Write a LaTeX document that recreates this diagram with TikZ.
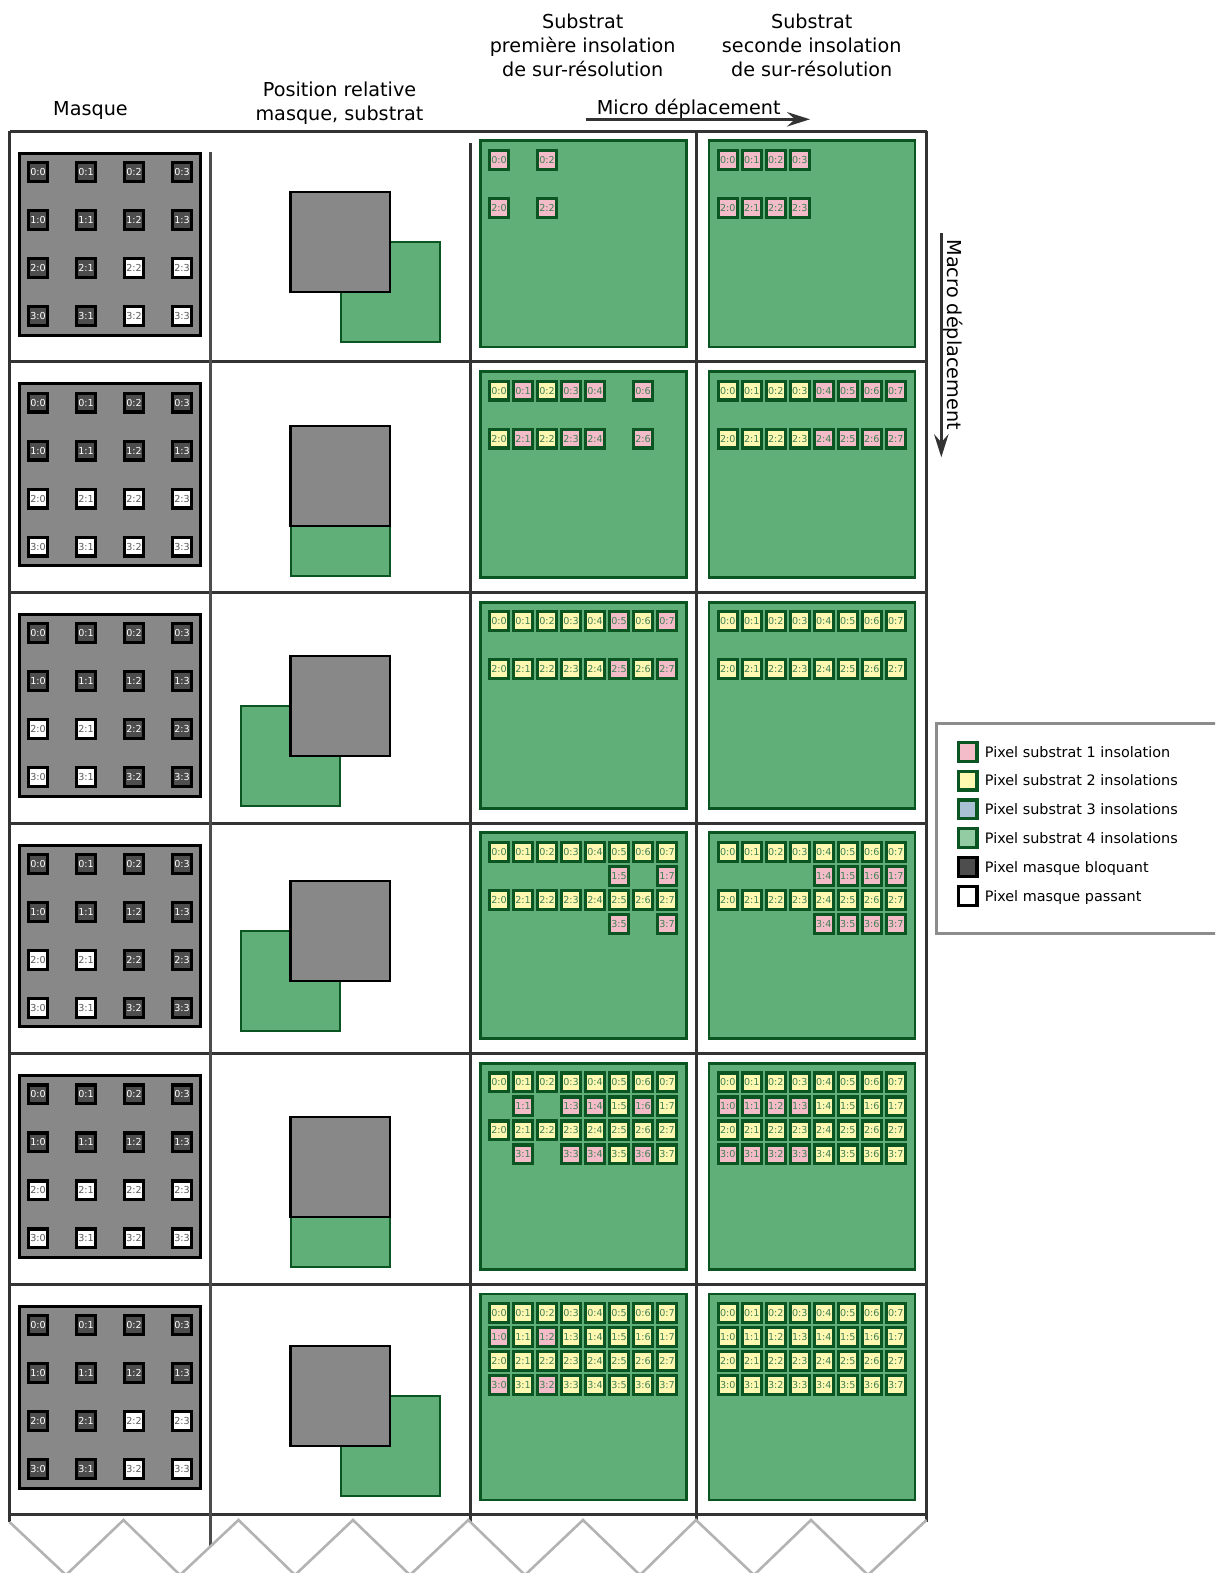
\documentclass[tikz,border=0pt]{standalone}
\usepackage{fontspec}
\setmainfont{DejaVu Sans}
\usetikzlibrary{arrows.meta}
\definecolor{gridc}{HTML}{333333}
\definecolor{gridb}{HTML}{4D4D4D}
\definecolor{zigc}{HTML}{B3B3B3}
\definecolor{legc}{HTML}{8C8C8C}
\definecolor{subf}{HTML}{60AE78}
\definecolor{subd}{HTML}{0A5522}
\definecolor{pink}{HTML}{F4BCC8}
\definecolor{yell}{HTML}{FFF8B0}
\definecolor{blu}{HTML}{A9C0D5}
\definecolor{grn}{HTML}{93CCA3}
\definecolor{maskf}{HTML}{888888}
\definecolor{darkp}{HTML}{4D4D4D}
\definecolor{ptxt}{HTML}{3F8055}
\tikzset{
  x=0.5pt,y=-0.5pt,
  gridline/.style={draw=gridc,line width=1.5pt},
  gridinner/.style={draw=gridb,line width=1.5pt},
  flecheline/.style={draw=gridc,line width=1.5pt,-{Stealth[length=11.5pt,width=7.2pt,inset=4pt]}},
  zig/.style={draw=zigc,line width=1.3pt},
  title/.style={font=\fontsize{9.6}{12}\selectfont,align=center,text=black,inner sep=0pt},
  legtxt/.style={font=\fontsize{7.2}{9}\selectfont,anchor=west,inner sep=0pt,text height=5.6pt,text depth=1.5pt},
  cellbase/.style={rectangle,minimum size=9.4pt,inner sep=0pt,line width=1.6pt,font=\fontsize{4.8}{5}\selectfont},
  ppink/.style={cellbase,draw=subd,fill=pink,text=ptxt},
  pyell/.style={cellbase,draw=subd,fill=yell,text=ptxt},
  pblue/.style={cellbase,draw=subd,fill=blu,text=ptxt},
  pgreen/.style={cellbase,draw=subd,fill=grn,text=ptxt},
  mdark/.style={cellbase,draw=black,fill=darkp,text=white},
  mwhite/.style={cellbase,draw=black,fill=white,text=black!65},
  maskbox/.style={rectangle,draw=black,fill=maskf,line width=1.5pt,minimum size=90.9pt,inner sep=0pt},
  subbox/.style={rectangle,draw=subd,fill=subf,line width=1.4pt,minimum size=103pt,inner sep=0pt},
  relgray/.style={rectangle,draw=black,fill=maskf,line width=1.05pt,minimum size=49.9pt,inner sep=0pt},
  relgreen/.style={rectangle,draw=subd,fill=subf,line width=1pt,minimum size=49.9pt,inner sep=0pt},
}
\newcommand{\maskpanel}[3]{%
  \node[maskbox] (mask#1) at (110,{244.2+230.6*#1}) {};
  \foreach \r in {0,...,3}{\foreach \c in {0,...,3}{%
    \pgfmathtruncatemacro\w{(\r>=2)&&(\c>=#2)&&(\c<=#3)}%
    \ifnum\w=1 \def\st{mwhite}\else\def\st{mdark}\fi
    \node[\st] (m#1r\r c\c) at ({38+48*\c},{172+230.6*#1+48*\r}) {\r:\c};
  }}%
}
\newcommand{\subpanel}[3]{% name, x-centre, k
  \node[subbox] (sub#1) at (#2,{159.5+230.6*#3+84.4}) {};
}
% panel name, first cell x, k, row, style, columns
\newcommand{\cellrow}[6]{%
  \foreach \c in {#6}{%
    \node[#5] (c#1r#4c\c) at ({#2+24*\c},{160+230.6*#3+24*#4}) {#4:\c};
  }%
}
\newcommand{\relpos}[5]{%
  \node[relgreen] (rg#1) at (#4,#5) {};
  \node[relgray] (rm#1) at (#2,#3) {};
}
\begin{document}
\begin{tikzpicture}
\clip (0,0) rectangle (1215,1573);
% grid
\foreach \n/\xx in {a/9.5,d/696,e/926.5}{
  \coordinate (top\n) at (\xx,131.3);
  \coordinate (bot\n) at (\xx,1522);
}
\coordinate (topb) at (210.7,152); \coordinate (botb) at (210.7,1546);
\coordinate (topc) at (470,143.5); \coordinate (botc) at (470,1522);
\foreach \k in {0,...,6}{
  \coordinate (hl\k) at (9.5,{131.3+230.6*\k});
  \coordinate (hr\k) at (926.5,{131.3+230.6*\k});
  \draw[gridline] (hl\k) -- (hr\k);
}
\draw[gridline] (topa) -- (bota);
\draw[gridinner] (topb) -- (botb);
\draw[gridline] (topc) -- (botc);
\draw[gridline] (topd) -- (botd);
\draw[gridline] (tope) -- (bote);
% zigzag
\coordinate (z0) at (9.5,1522);
\coordinate (z16) at (926.5,1520);
\draw[zig] (z0) -- (66,1575) -- (123.5,1520) -- (180,1575) -- (238.5,1520) -- (295,1575) -- (353,1520) -- (410,1575) -- (468.3,1520) -- (525,1575) -- (583,1520) -- (640,1575) -- (696,1520) -- (754,1575) -- (811,1520) -- (868,1575) -- (z16);
% titles
\node[title,anchor=base] (tmasque) at (90.5,115.4) {Masque};
\node[title] (tpos) at (339.5,103.5) {Position relative\\masque, substrat};
\node[title] (tsub1) at (582.7,45.5) {Substrat\\première insolation\\de sur-résolution};
\node[title] (tsub2) at (811.7,45.5) {Substrat\\seconde insolation\\de sur-résolution};
\node[title,anchor=base] (tmicro) at (688.7,115) {Micro déplacement};
\node[title,anchor=base,rotate=-90] (tmacro) at (947,334.7) {Macro déplacement};
\coordinate (mic0) at (585.7,119.3); \coordinate (mic1) at (810,119.3);
\coordinate (mac0) at (941.3,233.3); \coordinate (mac1) at (941.3,457.3);
\draw[flecheline] (mic0) -- (mic1);
\draw[flecheline] (mac0) -- (mac1);
% masks
\maskpanel{0}{2}{3}
\maskpanel{1}{0}{3}
\maskpanel{2}{0}{1}
\maskpanel{3}{0}{1}
\maskpanel{4}{0}{3}
\maskpanel{5}{2}{3}
% relative positions
\relpos{0}{340.4}{242}{390.4}{292}
\relpos{1}{340.4}{476.3}{340.4}{526.4}
\relpos{2}{340.4}{706}{290.4}{756}
\relpos{3}{340.4}{931}{290.4}{981}
\relpos{4}{340.4}{1167}{340.4}{1217}
\relpos{5}{340.4}{1396.3}{390.4}{1446.3}
% substrates
\foreach \k in {0,...,5}{
  \subpanel{a\k}{583.2}{\k}
  \subpanel{b\k}{812}{\k}
}
\def\xa{499}\def\xb{727.8}
% row 1
\cellrow{a0}{\xa}{0}{0}{ppink}{0,2}
\cellrow{a0}{\xa}{0}{2}{ppink}{0,2}
\cellrow{b0}{\xb}{0}{0}{ppink}{0,1,2,3}
\cellrow{b0}{\xb}{0}{2}{ppink}{0,1,2,3}
% row 2
\foreach \r in {0,2}{
  \cellrow{a1}{\xa}{1}{\r}{pyell}{0,2}
  \cellrow{a1}{\xa}{1}{\r}{ppink}{1,3,4,6}
  \cellrow{b1}{\xb}{1}{\r}{pyell}{0,1,2,3}
  \cellrow{b1}{\xb}{1}{\r}{ppink}{4,5,6,7}
}
% row 3
\foreach \r in {0,2}{
  \cellrow{a2}{\xa}{2}{\r}{pyell}{0,1,2,3,4,6}
  \cellrow{a2}{\xa}{2}{\r}{ppink}{5,7}
  \cellrow{b2}{\xb}{2}{\r}{pyell}{0,1,2,3,4,5,6,7}
}
% row 4
\foreach \r in {0,2}{
  \cellrow{a3}{\xa}{3}{\r}{pyell}{0,1,2,3,4,5,6,7}
  \cellrow{b3}{\xb}{3}{\r}{pyell}{0,1,2,3,4,5,6,7}
}
\foreach \r in {1,3}{
  \cellrow{a3}{\xa}{3}{\r}{ppink}{5,7}
  \cellrow{b3}{\xb}{3}{\r}{ppink}{4,5,6,7}
}
% row 5
\foreach \r in {0,2}{
  \cellrow{b4}{\xb}{4}{\r}{pyell}{0,1,2,3,4,5,6,7}
}
\cellrow{a4}{\xa}{4}{0}{pyell}{0,1,2,3,4,5,6,7}
\cellrow{a4}{\xa}{4}{2}{pyell}{0,1,2,3,4,5,6,7}
\foreach \r in {1,3}{
  \cellrow{a4}{\xa}{4}{\r}{ppink}{1,3,4,6}
  \cellrow{a4}{\xa}{4}{\r}{pyell}{5,7}
  \cellrow{b4}{\xb}{4}{\r}{ppink}{0,1,2,3}
  \cellrow{b4}{\xb}{4}{\r}{pyell}{4,5,6,7}
}
% row 6
\foreach \r in {0,2}{
  \cellrow{a5}{\xa}{5}{\r}{pyell}{0,1,2,3,4,5,6,7}
}
\foreach \r in {1,3}{
  \cellrow{a5}{\xa}{5}{\r}{ppink}{0,2}
  \cellrow{a5}{\xa}{5}{\r}{pyell}{1,3,4,5,6,7}
}
\foreach \r in {0,1,2,3}{
  \cellrow{b5}{\xb}{5}{\r}{pyell}{0,1,2,3,4,5,6,7}
}
% legend
\draw[draw=legc,line width=1.5pt,fill=white] (936.5,723.5) rectangle (1235,933.5);
\foreach \i/\st/\txt in {0/ppink/Pixel substrat 1 insolation,1/pyell/Pixel substrat 2 insolations,2/pblue/Pixel substrat 3 insolations,3/pgreen/Pixel substrat 4 insolations,4/mdark/Pixel masque bloquant,5/mwhite/Pixel masque passant}{
  \node[\st] (sw\i) at (967.5,{751.7+28.85*\i}) {};
  \node[legtxt] (lt\i) at (984.5,{753+28.85*\i}) {\txt};
}
\end{tikzpicture}
\end{document}
